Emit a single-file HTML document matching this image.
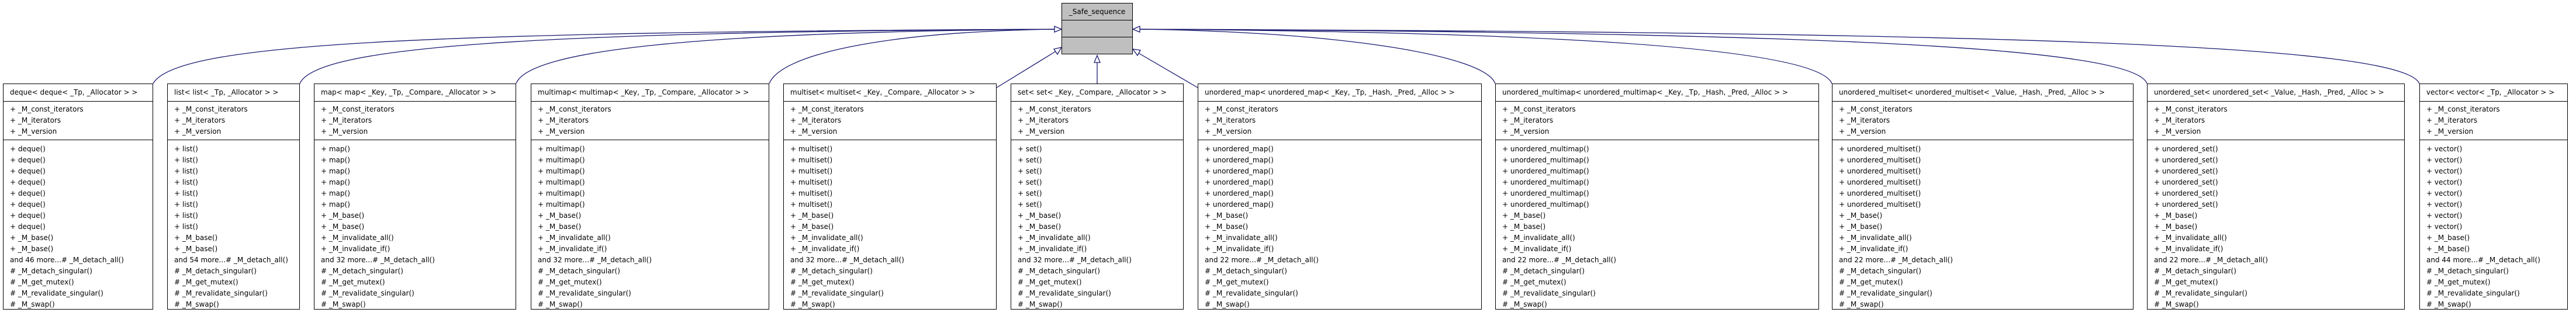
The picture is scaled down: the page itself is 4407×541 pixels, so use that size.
<!DOCTYPE html>
<html><head><meta charset="utf-8">
<style>
html,body{margin:0;padding:0;background:#fff;}
body{width:4407px;height:541px;position:relative;overflow:hidden;font-family:"DejaVu Sans","Liberation Sans",sans-serif;font-size:12px;color:#000;}
.b{position:absolute;top:143px;height:387px;border:1px solid #000;box-sizing:border-box;background:#fff;}
.h{height:30px;line-height:29px;text-align:left;padding-left:11px;border-bottom:1px solid #000;box-sizing:border-box;white-space:nowrap;}
.a{height:66px;border-bottom:1px solid #000;box-sizing:border-box;padding:4px 0 0 11px;line-height:19px;white-space:nowrap;}
.m{padding:6px 0 0 11px;line-height:19px;white-space:nowrap;}
.top{position:absolute;left:1816px;top:5px;width:122px;height:88px;border:1px solid #000;box-sizing:border-box;background:#bfbfbf;}
.top div{height:29px;border-bottom:1px solid #000;box-sizing:border-box;text-align:center;line-height:28px;}
.top div:last-child{border-bottom:none;}
svg{position:absolute;left:0;top:0;}
</style></head><body>
<svg width="4407" height="541" viewBox="0 0 4407 541">
<g fill="none" stroke="#191970" stroke-width="1.3">
<path d="M262,143 C300,75 700,55 1804,50"/>
<path d="M513,143 C540,80 900,55 1804,50"/>
<path d="M883,143 C905,85 1200,55 1804,50"/>
<path d="M1316,143 C1335,95 1500,55 1804,50"/>
<path d="M1705,150 L1806,88"/>
<path d="M1877,143 L1877,107"/>
<path d="M2049,150 L1948,91"/>
<path d="M2558,143 C2540,95 2300,55 1950,50"/>
<path d="M3134,143 C3110,85 2700,55 1950,50"/>
<path d="M3673,143 C3650,80 3100,55 1950,50"/>
<path d="M4139,143 C4110,75 3400,55 1950,50"/>
</g>
<g fill="#fff" stroke="#191970" stroke-width="1.3">
<polygon points="1816,50 1804,45 1804,55"/>
<polygon points="1938,50 1950,45 1950,55"/>
<polygon points="1816,81 1803,84 1809,93"/>
<polygon points="1938,84 1946,95 1951,86"/>
<polygon points="1877,95 1872,107 1882,107"/>
</g>
</svg>
<div class="top"><div>_Safe_sequence</div><div></div><div></div></div>

<div class="b" style="left:5px;width:257px"><div class="h">deque&lt; deque&lt; _Tp, _Allocator &gt; &gt;</div><div class="a">+ _M_const_iterators<br>+ _M_iterators<br>+ _M_version</div><div class="m">+ deque()<br>+ deque()<br>+ deque()<br>+ deque()<br>+ deque()<br>+ deque()<br>+ deque()<br>+ deque()<br>+ _M_base()<br>+ _M_base()<br>and 46 more...# _M_detach_all()<br># _M_detach_singular()<br># _M_get_mutex()<br># _M_revalidate_singular()<br># _M_swap()</div></div>

<div class="b" style="left:286px;width:227px"><div class="h">list&lt; list&lt; _Tp, _Allocator &gt; &gt;</div><div class="a">+ _M_const_iterators<br>+ _M_iterators<br>+ _M_version</div><div class="m">+ list()<br>+ list()<br>+ list()<br>+ list()<br>+ list()<br>+ list()<br>+ list()<br>+ list()<br>+ _M_base()<br>+ _M_base()<br>and 54 more...# _M_detach_all()<br># _M_detach_singular()<br># _M_get_mutex()<br># _M_revalidate_singular()<br># _M_swap()</div></div>

<div class="b" style="left:537px;width:346px"><div class="h">map&lt; map&lt; _Key, _Tp, _Compare, _Allocator &gt; &gt;</div><div class="a">+ _M_const_iterators<br>+ _M_iterators<br>+ _M_version</div><div class="m">+ map()<br>+ map()<br>+ map()<br>+ map()<br>+ map()<br>+ map()<br>+ _M_base()<br>+ _M_base()<br>+ _M_invalidate_all()<br>+ _M_invalidate_if()<br>and 32 more...# _M_detach_all()<br># _M_detach_singular()<br># _M_get_mutex()<br># _M_revalidate_singular()<br># _M_swap()</div></div>

<div class="b" style="left:908px;width:408px"><div class="h">multimap&lt; multimap&lt; _Key, _Tp, _Compare, _Allocator &gt; &gt;</div><div class="a">+ _M_const_iterators<br>+ _M_iterators<br>+ _M_version</div><div class="m">+ multimap()<br>+ multimap()<br>+ multimap()<br>+ multimap()<br>+ multimap()<br>+ multimap()<br>+ _M_base()<br>+ _M_base()<br>+ _M_invalidate_all()<br>+ _M_invalidate_if()<br>and 32 more...# _M_detach_all()<br># _M_detach_singular()<br># _M_get_mutex()<br># _M_revalidate_singular()<br># _M_swap()</div></div>

<div class="b" style="left:1340px;width:365px"><div class="h">multiset&lt; multiset&lt; _Key, _Compare, _Allocator &gt; &gt;</div><div class="a">+ _M_const_iterators<br>+ _M_iterators<br>+ _M_version</div><div class="m">+ multiset()<br>+ multiset()<br>+ multiset()<br>+ multiset()<br>+ multiset()<br>+ multiset()<br>+ _M_base()<br>+ _M_base()<br>+ _M_invalidate_all()<br>+ _M_invalidate_if()<br>and 32 more...# _M_detach_all()<br># _M_detach_singular()<br># _M_get_mutex()<br># _M_revalidate_singular()<br># _M_swap()</div></div>

<div class="b" style="left:1729px;width:296px"><div class="h">set&lt; set&lt; _Key, _Compare, _Allocator &gt; &gt;</div><div class="a">+ _M_const_iterators<br>+ _M_iterators<br>+ _M_version</div><div class="m">+ set()<br>+ set()<br>+ set()<br>+ set()<br>+ set()<br>+ set()<br>+ _M_base()<br>+ _M_base()<br>+ _M_invalidate_all()<br>+ _M_invalidate_if()<br>and 32 more...# _M_detach_all()<br># _M_detach_singular()<br># _M_get_mutex()<br># _M_revalidate_singular()<br># _M_swap()</div></div>

<div class="b" style="left:2049px;width:486px"><div class="h">unordered_map&lt; unordered_map&lt; _Key, _Tp, _Hash, _Pred, _Alloc &gt; &gt;</div><div class="a">+ _M_const_iterators<br>+ _M_iterators<br>+ _M_version</div><div class="m">+ unordered_map()<br>+ unordered_map()<br>+ unordered_map()<br>+ unordered_map()<br>+ unordered_map()<br>+ unordered_map()<br>+ _M_base()<br>+ _M_base()<br>+ _M_invalidate_all()<br>+ _M_invalidate_if()<br>and 22 more...# _M_detach_all()<br># _M_detach_singular()<br># _M_get_mutex()<br># _M_revalidate_singular()<br># _M_swap()</div></div>

<div class="b" style="left:2558px;width:554px"><div class="h">unordered_multimap&lt; unordered_multimap&lt; _Key, _Tp, _Hash, _Pred, _Alloc &gt; &gt;</div><div class="a">+ _M_const_iterators<br>+ _M_iterators<br>+ _M_version</div><div class="m">+ unordered_multimap()<br>+ unordered_multimap()<br>+ unordered_multimap()<br>+ unordered_multimap()<br>+ unordered_multimap()<br>+ unordered_multimap()<br>+ _M_base()<br>+ _M_base()<br>+ _M_invalidate_all()<br>+ _M_invalidate_if()<br>and 22 more...# _M_detach_all()<br># _M_detach_singular()<br># _M_get_mutex()<br># _M_revalidate_singular()<br># _M_swap()</div></div>

<div class="b" style="left:3134px;width:516px"><div class="h">unordered_multiset&lt; unordered_multiset&lt; _Value, _Hash, _Pred, _Alloc &gt; &gt;</div><div class="a">+ _M_const_iterators<br>+ _M_iterators<br>+ _M_version</div><div class="m">+ unordered_multiset()<br>+ unordered_multiset()<br>+ unordered_multiset()<br>+ unordered_multiset()<br>+ unordered_multiset()<br>+ unordered_multiset()<br>+ _M_base()<br>+ _M_base()<br>+ _M_invalidate_all()<br>+ _M_invalidate_if()<br>and 22 more...# _M_detach_all()<br># _M_detach_singular()<br># _M_get_mutex()<br># _M_revalidate_singular()<br># _M_swap()</div></div>

<div class="b" style="left:3673px;width:441px"><div class="h">unordered_set&lt; unordered_set&lt; _Value, _Hash, _Pred, _Alloc &gt; &gt;</div><div class="a">+ _M_const_iterators<br>+ _M_iterators<br>+ _M_version</div><div class="m">+ unordered_set()<br>+ unordered_set()<br>+ unordered_set()<br>+ unordered_set()<br>+ unordered_set()<br>+ unordered_set()<br>+ _M_base()<br>+ _M_base()<br>+ _M_invalidate_all()<br>+ _M_invalidate_if()<br>and 22 more...# _M_detach_all()<br># _M_detach_singular()<br># _M_get_mutex()<br># _M_revalidate_singular()<br># _M_swap()</div></div>

<div class="b" style="left:4139px;width:254px"><div class="h">vector&lt; vector&lt; _Tp, _Allocator &gt; &gt;</div><div class="a">+ _M_const_iterators<br>+ _M_iterators<br>+ _M_version</div><div class="m">+ vector()<br>+ vector()<br>+ vector()<br>+ vector()<br>+ vector()<br>+ vector()<br>+ vector()<br>+ vector()<br>+ _M_base()<br>+ _M_base()<br>and 44 more...# _M_detach_all()<br># _M_detach_singular()<br># _M_get_mutex()<br># _M_revalidate_singular()<br># _M_swap()</div></div>
</body></html>
